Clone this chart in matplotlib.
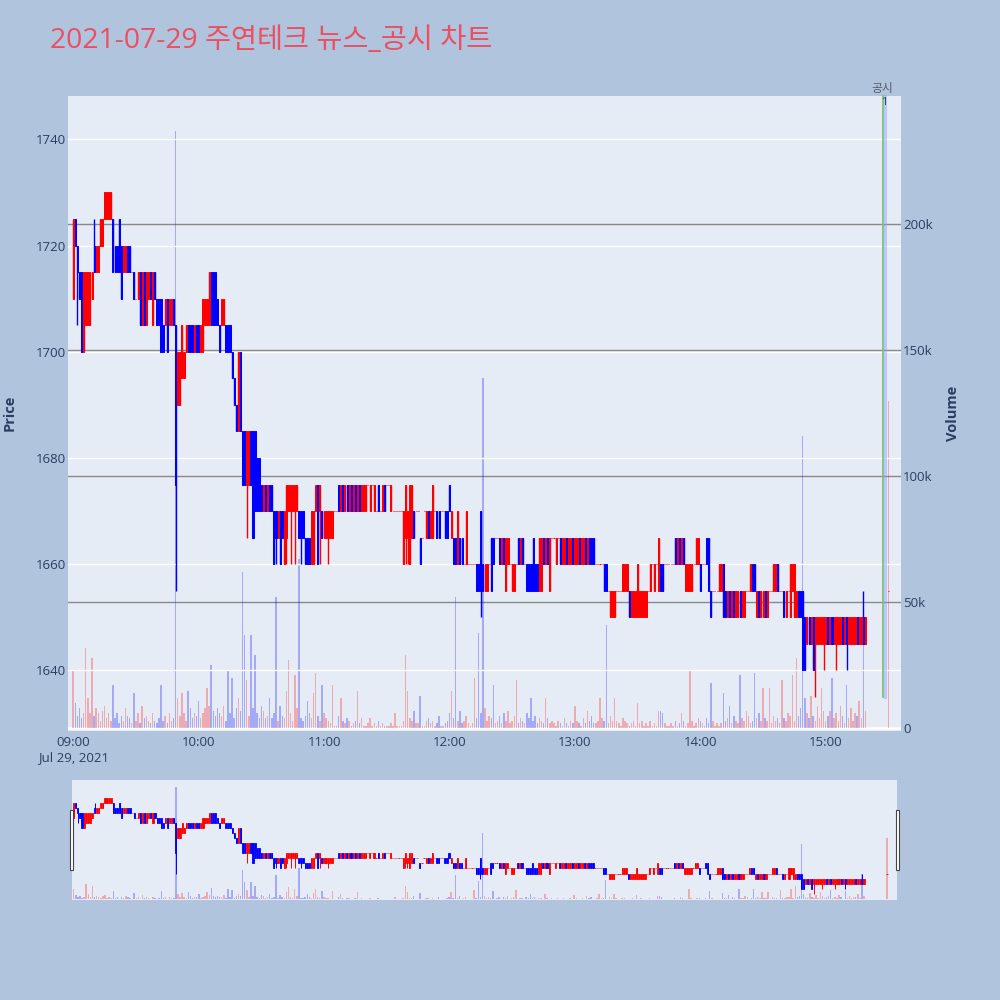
import matplotlib
matplotlib.use('Agg')
import matplotlib.pyplot as plt
from matplotlib.patches import Rectangle
import numpy as np

plt.rcParams['font.family'] = ['Open Sans', 'Noto Sans CJK KR', 'DejaVu Sans']

# ---------------- data ----------------
TITLE = '2021-07-29 주연테크 뉴스_공시 차트'
TIME_TICKS = [0, 60, 120, 180, 240, 300, 360]          # minutes after 09:00
TIME_LABELS = ['09:00\nJul 29, 2021', '10:00', '11:00', '12:00', '13:00', '14:00', '15:00']
PRICE_TICKS = [1640, 1660, 1680, 1700, 1720, 1740]
VOLUME_TICKS = [0, 50000, 100000, 150000, 200000]
VOLUME_TICK_LABELS = ['0', '50k', '100k', '150k', '200k']

OPEN = [
    1710, 1725, 1720, 1715, 1715, 1700, 1705, 1705, 1705, 1710,
    1720, 1715, 1715, 1720, 1720, 1725, 1725, 1725, 1725, 1725,
    1720, 1720, 1725, 1720, 1715, 1715, 1720, 1720, 1715, 1715,
    1710, 1710, 1715, 1705, 1715, 1705, 1710, 1715, 1705, 1715,
    1710, 1710, 1710, 1705, 1705, 1710, 1705, 1705, 1710, 1705,
    1690, 1690, 1695, 1695, 1700, 1705, 1705, 1705, 1700, 1705,
    1705, 1700, 1700, 1705, 1705, 1705, 1715, 1715, 1715, 1710,
    1705, 1705, 1705, 1705, 1705, 1705, 1700, 1695, 1690, 1685,
    1700, 1685, 1685, 1675, 1675, 1685, 1685, 1685, 1680, 1680,
    1675, 1670, 1675, 1670, 1675, 1675, 1670, 1670, 1665, 1670,
    1670, 1660, 1665, 1670, 1670, 1670, 1670, 1670, 1670, 1670,
    1670, 1665, 1665, 1665, 1660, 1660, 1670, 1675, 1670, 1670,
    1665, 1665, 1665, 1665, 1665, 1670, 1670, 1675, 1670, 1675,
    1670, 1675, 1670, 1675, 1670, 1675, 1670, 1675, 1670, 1670,
    1670, 1675, 1670, 1675, 1670, 1670, 1675, 1670, 1670, 1675,
    1675, 1675, 1670, 1670, 1670, 1670, 1670, 1670, 1660, 1665,
    1665, 1660, 1665, 1670, 1670, 1670, 1665, 1665, 1670, 1665,
    1670, 1665, 1665, 1670, 1670, 1670, 1670, 1670, 1670, 1670,
    1675, 1665, 1665, 1665, 1660, 1665, 1665, 1660, 1660, 1660,
    1660, 1660, 1660, 1660, 1660, 1670, 1660, 1655, 1655, 1660,
    1665, 1665, 1665, 1665, 1665, 1660, 1665, 1655, 1660, 1660,
    1655, 1655, 1660, 1665, 1660, 1665, 1660, 1660, 1660, 1660,
    1665, 1660, 1660, 1655, 1655, 1665, 1660, 1665, 1655, 1665,
    1665, 1660, 1665, 1665, 1660, 1660, 1665, 1660, 1660, 1665,
    1660, 1660, 1665, 1660, 1660, 1665, 1660, 1665, 1665, 1665,
    1660, 1660, 1660, 1660, 1660, 1660, 1655, 1650, 1650, 1650,
    1655, 1655, 1655, 1655, 1655, 1655, 1655, 1650, 1650, 1650,
    1650, 1650, 1650, 1650, 1650, 1655, 1655, 1660, 1655, 1660,
    1655, 1660, 1660, 1660, 1660, 1660, 1660, 1660, 1665, 1660,
    1665, 1660, 1665, 1655, 1655, 1655, 1655, 1660, 1660, 1660,
    1660, 1660, 1660, 1665, 1665, 1655, 1655, 1655, 1655, 1655,
    1655, 1660, 1655, 1650, 1655, 1650, 1655, 1650, 1650, 1655,
    1650, 1650, 1655, 1655, 1655, 1660, 1660, 1650, 1655, 1650,
    1650, 1655, 1650, 1655, 1655, 1655, 1655, 1660, 1655, 1655,
    1655, 1650, 1655, 1650, 1655, 1650, 1650, 1655, 1655, 1655,
    1650, 1645, 1650, 1645, 1650, 1645, 1645, 1645, 1645, 1645,
    1645, 1650, 1645, 1650, 1645, 1645, 1645, 1645, 1650, 1645,
    1650, 1645, 1645, 1645, 1645, 1650, 1645, 1645, 1650, 1645,
]
CLOSE = [
    1725, 1720, 1715, 1710, 1700, 1715, 1715, 1715, 1715, 1715,
    1715, 1720, 1720, 1725, 1725, 1730, 1730, 1730, 1730, 1715,
    1715, 1715, 1715, 1710, 1720, 1720, 1715, 1715, 1715, 1710,
    1710, 1715, 1705, 1715, 1705, 1715, 1715, 1710, 1715, 1710,
    1705, 1705, 1700, 1700, 1710, 1700, 1710, 1710, 1705, 1675,
    1700, 1700, 1705, 1700, 1705, 1700, 1700, 1700, 1705, 1700,
    1700, 1705, 1710, 1710, 1710, 1715, 1705, 1705, 1705, 1705,
    1700, 1710, 1710, 1700, 1700, 1700, 1695, 1690, 1685, 1700,
    1685, 1675, 1675, 1685, 1685, 1675, 1665, 1670, 1670, 1670,
    1670, 1675, 1670, 1675, 1670, 1670, 1660, 1665, 1670, 1660,
    1665, 1670, 1675, 1675, 1675, 1675, 1675, 1675, 1665, 1665,
    1665, 1660, 1660, 1660, 1670, 1670, 1675, 1660, 1675, 1665,
    1670, 1670, 1670, 1670, 1670, 1670, 1670, 1670, 1675, 1670,
    1675, 1670, 1675, 1670, 1675, 1670, 1675, 1670, 1675, 1675,
    1675, 1675, 1675, 1675, 1675, 1670, 1670, 1670, 1675, 1670,
    1675, 1675, 1675, 1670, 1670, 1670, 1670, 1670, 1670, 1675,
    1670, 1675, 1675, 1665, 1670, 1670, 1660, 1665, 1670, 1670,
    1665, 1670, 1675, 1670, 1665, 1665, 1670, 1670, 1665, 1665,
    1670, 1670, 1660, 1660, 1670, 1660, 1660, 1660, 1670, 1660,
    1660, 1660, 1660, 1655, 1655, 1655, 1655, 1660, 1660, 1660,
    1655, 1660, 1665, 1665, 1660, 1665, 1660, 1665, 1665, 1660,
    1660, 1660, 1660, 1660, 1665, 1660, 1660, 1655, 1655, 1655,
    1655, 1655, 1655, 1665, 1665, 1660, 1665, 1660, 1665, 1665,
    1665, 1665, 1665, 1660, 1665, 1665, 1660, 1665, 1665, 1660,
    1665, 1665, 1660, 1665, 1665, 1660, 1665, 1660, 1660, 1660,
    1660, 1660, 1660, 1660, 1655, 1655, 1655, 1655, 1655, 1655,
    1655, 1655, 1655, 1660, 1660, 1660, 1650, 1655, 1655, 1655,
    1660, 1655, 1655, 1655, 1655, 1655, 1660, 1660, 1660, 1660,
    1665, 1655, 1655, 1660, 1660, 1660, 1660, 1660, 1660, 1665,
    1660, 1665, 1660, 1660, 1660, 1660, 1660, 1660, 1665, 1665,
    1655, 1660, 1660, 1660, 1655, 1650, 1655, 1655, 1655, 1660,
    1660, 1650, 1650, 1655, 1650, 1655, 1650, 1655, 1655, 1650,
    1655, 1655, 1655, 1655, 1660, 1655, 1655, 1655, 1650, 1655,
    1655, 1650, 1655, 1655, 1655, 1660, 1660, 1655, 1655, 1655,
    1650, 1655, 1655, 1660, 1660, 1660, 1655, 1650, 1650, 1640,
    1640, 1650, 1645, 1650, 1640, 1650, 1650, 1650, 1650, 1650,
    1650, 1645, 1650, 1645, 1650, 1650, 1650, 1650, 1645, 1650,
    1645, 1650, 1650, 1650, 1650, 1645, 1650, 1650, 1645, 1650,
]
HIGH_EXTRA = {10: 1725, 378: 1655}
LOW_EXTRA = {2: 1705, 49: 1655, 50: 1690, 83: 1665, 97: 1660, 102: 1660,
             104: 1660, 106: 1660, 109: 1660, 118: 1660, 122: 1660,
             159: 1660, 160: 1660, 195: 1650, 355: 1635, 359: 1640,
             365: 1640, 370: 1640}
VOLUME_K = [  # thousands of shares per minute
    23, 10, 5, 8, 4, 6, 32, 12, 6, 28,
    5, 8, 6, 3, 7, 9, 4, 6, 3, 17,
    4, 6, 2, 5, 3, 8, 5, 4, 2, 14,
    3, 6, 2, 9, 4, 5, 3, 2, 6, 3,
    2, 4, 17, 3, 5, 2, 6, 3, 4, 237,
    12, 5, 14, 6, 3, 15, 8, 4, 6, 5,
    11, 4, 6, 8, 16, 9, 25, 7, 5, 8,
    6, 5, 9, 3, 23, 6, 20, 4, 8, 12,
    7, 62, 37, 19, 5, 37, 8, 29, 6, 4,
    9, 7, 4, 5, 12, 4, 6, 52, 3, 9,
    5, 4, 15, 27, 6, 3, 21, 8, 67, 4,
    3, 5, 11, 6, 4, 14, 22, 5, 3, 17,
    6, 4, 3, 2, 17, 1, 1, 5, 12, 3,
    2, 4, 3, 1, 2, 3, 15, 2, 4, 1,
    1, 2, 4, 1, 2, 1, 3, 1, 2, 1,
    1, 1, 2, 1, 6, 1, 1, 1, 3, 29,
    15, 4, 3, 7, 2, 2, 13, 1, 1, 3,
    4, 2, 3, 1, 2, 5, 1, 1, 2, 3,
    6, 15, 4, 52, 3, 7, 2, 3, 5, 2,
    1, 2, 20, 4, 38, 6, 139, 8, 3, 5,
    4, 17, 2, 3, 5, 2, 6, 3, 7, 2,
    3, 5, 19, 2, 4, 3, 2, 6, 4, 12,
    3, 5, 2, 4, 3, 2, 12, 4, 2, 3,
    2, 1, 3, 2, 1, 4, 2, 1, 3, 2,
    9, 3, 2, 1, 4, 2, 7, 3, 5, 2,
    2, 3, 12, 4, 3, 41, 2, 5, 3, 12,
    3, 2, 1, 4, 3, 2, 1, 2, 3, 1,
    10, 2, 3, 1, 2, 1, 3, 1, 2, 1,
    7, 7, 6, 2, 1, 1, 2, 1, 3, 1,
    2, 6, 3, 1, 2, 23, 3, 1, 2, 4,
    3, 2, 1, 4, 2, 18, 3, 1, 2, 1,
    2, 14, 3, 4, 9, 2, 5, 3, 2, 21,
    4, 3, 7, 5, 2, 3, 22, 4, 6, 3,
    16, 4, 3, 16, 2, 5, 3, 4, 2, 19,
    4, 3, 6, 5, 21, 3, 28, 5, 8, 116,
    12, 6, 4, 13, 5, 3, 9, 4, 16, 7,
    3, 5, 7, 20, 4, 6, 3, 9, 5, 2,
    17, 4, 8, 3, 6, 5, 11, 4, 54, 7,
]
AUCTION_MINUTE = 390          # 15:30 closing auction
AUCTION_PRICE = 1655
AUCTION_VOLUME_K = 130
DISCLOSURE_MINUTE = 387.5     # 공시 marker
DISCLOSURE_LABEL = '공시'
DISCLOSURE_COUNT = '1'

# ---------------- assemble ----------------
minutes = list(range(len(OPEN))) + [AUCTION_MINUTE]
o = np.array(OPEN + [AUCTION_PRICE], float)
c = np.array(CLOSE + [AUCTION_PRICE], float)
h = np.maximum(o, c)
l = np.minimum(o, c)
for k, v in HIGH_EXTRA.items():
    h[k] = max(h[k], v)
for k, v in LOW_EXTRA.items():
    l[k] = min(l[k], v)
vol = np.array(VOLUME_K + [AUCTION_VOLUME_K], float) * 1000
x = np.array(minutes, float)
up = c >= o

RED = '#FF0000'
BLUE = '#0000FF'
VRED = (1.0, 0.0, 0.0, 0.28)
VBLUE = (0.0, 0.0, 1.0, 0.28)
TXT = '#2a3f5f'
BG = '#B0C4DE'
PLOT_BG = '#E5ECF6'

PRICE_LIM = (1628.6, 1748.15)
VOL_LIM = (-1070, 250900)
XLIM_MAIN = (-2.5, 396.0)
XLIM_SLIDER = (-1.0, 394.8)

fig = plt.figure(figsize=(10, 10), dpi=100, facecolor=BG)


def draw(ax_v, ax_p, body_w, lw, wick_lw, vol_w):
    cols = [RED if u else BLUE for u in up]
    vcols = [VRED if u else VBLUE for u in up]
    ax_v.bar(x, vol, width=vol_w, color=vcols, linewidth=0, zorder=2)
    ax_p.vlines(x, l, h, colors=cols, linewidth=wick_lw, zorder=3)
    ax_p.bar(x, c - o, bottom=o, width=body_w, color=cols, edgecolor=cols,
             linewidth=lw, zorder=4)


# main chart
ax_v = fig.add_axes([0.068, 0.269, 0.833, 0.635])
ax_v.set_facecolor(PLOT_BG)
ax_p = ax_v.twinx()
ax_p.patch.set_visible(False)

draw(ax_v, ax_p, body_w=0.5, lw=0.75, wick_lw=1.0, vol_w=0.7)

ax_v.set_ylim(*VOL_LIM)
ax_p.set_ylim(*PRICE_LIM)
ax_v.set_xlim(*XLIM_MAIN)

ax_v.set_yticks(VOLUME_TICKS)
ax_v.set_yticklabels(VOLUME_TICK_LABELS)
ax_v.yaxis.tick_right()
ax_v.yaxis.set_label_position('right')
ax_v.grid(axis='y', color='#8a8a8a', linewidth=1.0, zorder=0)
ax_v.set_axisbelow(True)
ax_v.axhline(0, color='white', linewidth=2.0, zorder=1)

ax_p.yaxis.tick_left()
ax_p.yaxis.set_label_position('left')
ax_p.set_yticks(PRICE_TICKS)
ax_p.grid(axis='y', color='white', linewidth=1.0, zorder=0)
ax_p.set_axisbelow(True)

ax_v.set_xticks(TIME_TICKS)
ax_v.set_xticklabels(TIME_LABELS)
ax_p.tick_params(axis='x', which='both', length=0, labelbottom=False)

for a in (ax_v, ax_p):
    for s in a.spines.values():
        s.set_visible(False)
ax_v.tick_params(axis='x', length=0, pad=3.5, labelsize=9.5, labelcolor=TXT)
ax_v.tick_params(axis='y', length=0, pad=1.5, labelsize=9.5, labelcolor=TXT)
ax_p.tick_params(axis='y', length=0, pad=1.5, labelsize=9.5, labelcolor=TXT)

# disclosure marker
ax_p.plot([DISCLOSURE_MINUTE + 0.8, DISCLOSURE_MINUTE + 0.8], [1635, PRICE_LIM[1]],
          color=(0.55, 0.6, 1.0, 0.45), linewidth=2.2, zorder=5, clip_on=False)
ax_p.plot([DISCLOSURE_MINUTE, DISCLOSURE_MINUTE], [1635, PRICE_LIM[1]],
          color='#7fbf7f', linewidth=1.3, zorder=6, clip_on=False)
ax_p.text(DISCLOSURE_MINUTE - 0.3, PRICE_LIM[1] + 0.15, DISCLOSURE_LABEL, ha='center',
          va='bottom', fontsize=8.5, color='#555f6f', zorder=7)
ax_p.text(DISCLOSURE_MINUTE + 0.6, PRICE_LIM[1] - 0.1, DISCLOSURE_COUNT, ha='center',
          va='top', fontsize=8, color='#2a3f5f', zorder=7)

# axis titles
fig.text(0.010, 0.587, 'Price', rotation=90, ha='center', va='center',
         fontsize=10.5, fontweight='bold', color=TXT)
fig.text(0.953, 0.587, 'Volume', rotation=90, ha='center', va='center',
         fontsize=10.5, fontweight='bold', color=TXT)

# title
fig.text(0.05, 0.959, TITLE, ha='left', va='center', fontsize=20.4, color='#EB4F63')

# range slider
sv = fig.add_axes([0.0716, 0.100, 0.8254, 0.120])
sv.set_facecolor(PLOT_BG)
sp = sv.twinx()
sp.patch.set_visible(False)
draw(sv, sp, body_w=0.55, lw=0.6, wick_lw=0.7, vol_w=0.7)
sv.set_ylim(*VOL_LIM)
sp.set_ylim(*PRICE_LIM)
sv.set_xlim(*XLIM_SLIDER)
for a in (sv, sp):
    a.set_xticks([])
    a.set_yticks([])
    for s in a.spines.values():
        s.set_visible(False)

# slider handles
for hx in (0.0695, 0.8955):
    fig.patches.append(Rectangle((hx, 0.130), 0.0032, 0.060, transform=fig.transFigure,
                                 facecolor='white', edgecolor='#444444', linewidth=0.8,
                                 zorder=10))

fig.savefig('out.png', dpi=100, facecolor=BG)
